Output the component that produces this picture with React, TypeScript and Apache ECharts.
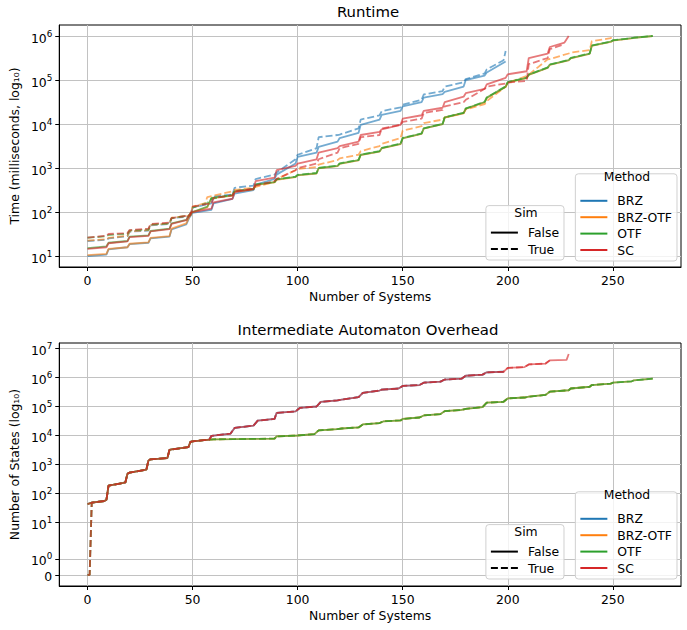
import React, { useEffect, useRef } from 'react';
import * as echarts from 'echarts';

// ---------- categories / ticks ----------
const methods = ['BRZ', 'BRZ-OTF', 'OTF', 'SC'];
const methodColors = ['#1f77b4', '#ff7f0e', '#2ca02c', '#d62728'];
const simValues = ['False', 'True'];
const xTicks = [0, 50, 100, 150, 200, 250];
const runtimeTicks = [10, 100, 1e3, 1e4, 1e5, 1e6];
const statesTicks = [0, 1, 10, 100, 1e3, 1e4, 1e5, 1e6, 1e7];

// ---------- Runtime (ms), [number of systems, time] ----------
const runtimeBrzFalse = [[0,10],[9,10.7],[10,14.1],[19,15.8],[20,18.6],[29,20],[30,25.1],[39,27.5],[40,40],[47,52],[49,85],[50,95],[59,112],[60,158],[69,200],[70,263],[79,316],[80,417],[89,562],[90,708],[99,1260],[100,1780],[109,2240],[110,3020],[119,3980],[120,4790],[129,6310],[130,9550],[139,12600],[140,16200],[149,19950],[150,25100],[159,31600],[160,39800],[169,47900],[170,53700],[179,70800],[180,100000],[189,125900],[190,147900],[199,263000]];
const runtimeBrzTrue = [[0,21.9],[9,23.4],[10,25.1],[19,28.2],[20,35.5],[29,38],[30,50],[39,53.7],[40,72.4],[49,79.4],[50,126],[59,158],[60,224],[69,251],[70,355],[79,398],[80,562],[89,708],[90,794],[99,1580],[100,2000],[109,2820],[110,5010],[119,5620],[120,5750],[129,7940],[130,12600],[139,15800],[140,19500],[149,24000],[150,27500],[159,35500],[160,46800],[169,56200],[170,70800],[179,89000],[180,105000],[189,141000],[190,174000],[198,282000],[199,457000]];
const runtimeBrzOtfFalse = [[0,10.5],[9,11.2],[10,14.5],[19,15.8],[20,19],[29,20.4],[30,25.7],[39,28.2],[40,42],[47,55],[49,90],[50,100],[57,128],[59,205],[69,235],[70,290],[79,325],[80,410],[89,470],[90,540],[99,620],[100,680],[109,750],[110,980],[119,1100],[120,1240],[129,1490],[130,1970],[139,2370],[140,2780],[149,3500],[150,4700],[159,5950],[160,7850],[169,9900],[170,13900],[179,17500],[180,22000],[189,31000],[190,39000],[199,69000],[200,87000],[209,110000],[210,130000],[219,188000],[220,220000],[229,278000],[230,312000],[239,392000],[240,595000],[249,735000],[250,785000],[259,885000],[260,905000],[269,990000]];
const runtimeBrzOtfTrue = [[0,22.4],[9,24],[10,25.7],[19,28.8],[20,36.3],[29,38.9],[30,51],[39,55],[40,74],[49,83],[50,132],[56,160],[57,219],[69,295],[70,316],[79,355],[80,372],[89,479],[90,562],[99,891],[100,955],[109,1047],[110,1200],[119,1510],[120,1660],[129,2000],[130,2400],[139,3160],[140,3550],[149,4790],[150,7080],[159,8900],[160,10500],[169,12600],[170,14100],[179,17800],[180,21400],[189,28200],[190,33100],[199,70800],[200,87000],[209,123000],[210,132000],[219,295000],[220,300000],[229,400000],[230,420000],[239,480000],[240,760000],[249,890000],[250,1000000]];
const runtimeOtfFalse = [[0,15],[9,16.6],[10,20],[19,21.9],[20,27.5],[29,29.5],[30,37],[39,41.7],[40,55],[47,66],[49,95],[50,100],[57,132],[59,209],[69,240],[70,295],[79,331],[80,417],[89,479],[90,550],[99,630],[100,690],[109,760],[110,1000],[119,1120],[120,1260],[129,1510],[130,2000],[139,2400],[140,2820],[149,3550],[150,4790],[159,6030],[160,7940],[169,10000],[170,14100],[179,17800],[180,22400],[189,31600],[190,39800],[199,70800],[200,89000],[209,112000],[210,132000],[219,191000],[220,224000],[229,282000],[230,316000],[239,398000],[240,603000],[249,741000],[250,794000],[259,891000],[260,912000],[269,1000000]];
const runtimeOtfTrue = [[0,26],[9,28],[10,30],[19,32],[20,38],[29,40],[30,52],[39,55],[40,72],[49,85],[50,126],[57,160],[59,200],[69,245],[70,300],[79,335],[80,420],[89,485],[90,555],[99,640],[100,700],[109,770],[110,1010],[119,1130],[120,1280],[129,1530],[130,2020],[139,2420],[140,2850],[149,3600],[150,4850],[159,6100],[160,8000],[169,10100],[170,14200],[179,18000],[180,22600],[189,32000],[190,40000],[199,71500],[200,90000],[209,113000],[210,133000],[219,193000],[220,226000],[229,285000],[230,320000],[239,402000],[240,610000],[249,745000],[250,800000],[259,895000],[260,915000],[269,1000000]];
const runtimeScFalse = [[0,14.5],[9,15.8],[10,19.5],[19,21.4],[20,26.9],[29,28.8],[30,36.3],[39,40.7],[40,53.7],[47,65],[49,95],[50,100],[59,120],[60,166],[69,200],[70,282],[79,331],[80,501],[89,603],[90,891],[99,1120],[100,1260],[109,1580],[110,2240],[119,2820],[120,3160],[129,3980],[130,5620],[139,6610],[140,7590],[149,9550],[150,13200],[159,15800],[160,19950],[169,23400],[170,31600],[179,41700],[180,50100],[189,63100],[190,79400],[199,112000],[200,135000],[209,158000],[210,316000],[219,398000],[220,562000],[227,708000],[229,1000000]];
const runtimeScTrue = [[0,26.3],[9,28.8],[10,31.6],[19,33.1],[20,38.9],[29,41.7],[30,53.7],[39,57.5],[40,72.4],[49,85],[50,132],[59,158],[60,209],[69,240],[70,295],[79,339],[80,398],[89,501],[90,562],[99,891],[100,1000],[109,1260],[110,1580],[119,2240],[120,2820],[129,3550],[130,5010],[139,5620],[140,7940],[149,9550],[150,11200],[159,13200],[160,17800],[169,20900],[170,25100],[179,31600],[180,35500],[189,63100],[190,70800],[199,83200],[200,87100],[209,95500],[210,229000],[219,316000],[220,501000],[226,631000]];

// ---------- Intermediate automaton states, [number of systems, states] ----------
const statesEarly = [[0,43],[2,48],[8,55],[9,60],[10,186],[17,230],[18,240],[19,480],[20,525],[28,660],[29,1380],[30,1510],[38,1660],[39,3160],[40,3300],[48,3980],[49,6000],[50,6310],[58,7240]];
const statesTrueStart = [[0,0],[1,0],[2,48]];
const statesScBrzLate = [[59,9770],[68,11500],[70,18200],[79,21900],[81,32400],[89,37200],[90,60300],[99,67600],[101,89100],[109,100000],[111,145000],[119,162000],[121,174000],[129,209000],[131,295000],[139,355000],[140,380000],[148,417000],[150,513000],[158,550000],[160,661000],[168,724000],[170,851000],[178,912000],[180,1150000],[188,1260000],[190,1510000],[198,1580000],[200,2140000],[208,2290000],[210,2820000],[218,3020000],[220,3890000],[228,4070000],[229,6460000]];
const statesOtfLate = [[60,7400],[70,7500],[80,7650],[89,7800],[90,9300],[100,10000],[108,11200],[110,15100],[119,16600],[121,17400],[129,19000],[131,24000],[139,26900],[141,30900],[149,33100],[150,37200],[158,41700],[160,49000],[168,55000],[170,69200],[178,75900],[180,83200],[188,95500],[190,135000],[198,145000],[200,191000],[208,204000],[210,219000],[218,251000],[220,324000],[229,363000],[230,417000],[239,479000],[240,550000],[249,617000],[250,661000],[259,741000],[260,794000],[269,912000]];
// number of systems solved per method / sim (False, True)
const solvedBrz = [199, 199];
const solvedBrzOtf = [269, 250];
const solvedOtf = [269, 269];
const solvedSc = [229, 226];

const FONT = 'DejaVu Sans';
const LIN = 2;
const ADJ = 1 / (1 - 0.1);
const symlog = (v: number) => (v <= LIN ? (v * ADJ) / LIN : ADJ + Math.log10(v / LIN));
const log10 = (v: number) => Math.log10(v);

function supLabel(e: number) {
  return '{b|10}{s|' + e + '}';
}

export default function App() {
  const ref = useRef<HTMLDivElement>(null);
  useEffect(() => {
    if (!ref.current) return;
    const chart = echarts.init(ref.current, null, { renderer: 'svg' });

    const runtimeData: Record<string, number[][][]> = {
      BRZ: [runtimeBrzFalse, runtimeBrzTrue],
      'BRZ-OTF': [runtimeBrzOtfFalse, runtimeBrzOtfTrue],
      OTF: [runtimeOtfFalse, runtimeOtfTrue],
      SC: [runtimeScFalse, runtimeScTrue],
    };
    const solved: Record<string, number[]> = {
      BRZ: solvedBrz, 'BRZ-OTF': solvedBrzOtf, OTF: solvedOtf, SC: solvedSc,
    };
    const stateLate: Record<string, number[][]> = {
      BRZ: statesScBrzLate, 'BRZ-OTF': statesOtfLate, OTF: statesOtfLate, SC: statesScBrzLate,
    };

    const series: any[] = [];
    const lineSeries = (name: string, grid: number, color: string, dashed: boolean, data: number[][]) => ({
      name,
      type: 'line',
      xAxisIndex: grid,
      yAxisIndex: grid,
      data,
      symbol: 'none',
      showSymbol: false,
      silent: true,
      color,
      lineStyle: { color, width: 1.8, opacity: 0.62, type: dashed ? [7, 3] : 'solid' },
    });

    methods.forEach((m, mi) => {
      simValues.forEach((s, si) => {
        const pts = runtimeData[m][si];
        series.push(lineSeries(m + ' / ' + s + ' (runtime)', 0, methodColors[mi], si === 1,
          pts.map((p) => [p[0], log10(p[1])])));
      });
    });
    methods.forEach((m, mi) => {
      simValues.forEach((s, si) => {
        const start = si === 1 ? statesTrueStart : statesEarly.filter((p) => p[0] < 2);
        const rest = [...statesEarly.filter((p) => p[0] >= 2), ...stateLate[m]];
        const pts = [...start, ...rest].filter((p) => p[0] <= solved[m][si]);
        series.push(lineSeries(m + ' / ' + s + ' (states)', 1, methodColors[mi], si === 1,
          pts.map((p) => [p[0], symlog(p[1])])));
      });
    });
    // legend-only entries
    methods.forEach((m, mi) => {
      series.push({ name: m, type: 'line', xAxisIndex: 0, yAxisIndex: 0, data: [], symbol: 'none',
        color: methodColors[mi], itemStyle: { opacity: 0 }, lineStyle: { color: methodColors[mi], width: 2 } });
    });
    simValues.forEach((s, si) => {
      series.push({ name: s, type: 'line', xAxisIndex: 0, yAxisIndex: 0, data: [], symbol: 'none',
        color: '#000', itemStyle: { opacity: 0 }, lineStyle: { color: '#000', width: 2, type: si === 1 ? [7, 3] : 'solid' } });
    });

    const rich = {
      b: { fontSize: 12.4, fontFamily: FONT, color: '#000', verticalAlign: 'bottom', lineHeight: 16 },
      s: { fontSize: 8.8, fontFamily: FONT, color: '#000', verticalAlign: 'bottom', lineHeight: 16, padding: [0, 0, 6, 0] },
    };

    const xAxis = (grid: number) => ({
      type: 'value', gridIndex: grid, min: -13.45, max: 282.45,
      name: 'Number of Systems', nameLocation: 'middle', nameGap: 23,
      nameTextStyle: { fontSize: 12.4, color: '#000', fontFamily: FONT },
      axisLine: { show: true, onZero: false, lineStyle: { color: '#000', width: 1 } },
      axisTick: { show: true, length: 4, customValues: xTicks, lineStyle: { color: '#000', width: 1 } },
      axisLabel: { customValues: xTicks, margin: 7, fontSize: 12.4, color: '#000', fontFamily: FONT },
      splitLine: { show: true, lineStyle: { color: '#c2c2c2', width: 1 } },
    });

    const runtimeTickPos = runtimeTicks.map(log10);
    const statesTickPos = statesTicks.map(symlog);

    const option: any = {
      animation: false,
      backgroundColor: '#fff',
      textStyle: { fontFamily: FONT },
      title: [
        { text: 'Runtime', left: 368, top: 4, textAlign: 'center', padding: 0,
          textStyle: { fontSize: 14.9, fontWeight: 'normal', color: '#000', fontFamily: FONT } },
        { text: 'Intermediate Automaton Overhead', left: 368, top: 322, textAlign: 'center', padding: 0,
          textStyle: { fontSize: 14.9, fontWeight: 'normal', color: '#000', fontFamily: FONT } },
      ],
      grid: [
        { left: 55, right: 6, top: 25, height: 242, show: true, borderColor: '#000', borderWidth: 1, backgroundColor: 'transparent' },
        { left: 55, right: 6, top: 343, height: 243, show: true, borderColor: '#000', borderWidth: 1, backgroundColor: 'transparent' },
      ],
      xAxis: [xAxis(0), xAxis(1)],
      yAxis: [
        {
          type: 'value', gridIndex: 0, min: 0.75, max: 6.25,
          name: 'Time (milliseconds, log\u2081\u2080)', nameLocation: 'middle', nameGap: 37, nameRotate: 90,
          nameTextStyle: { fontSize: 12.4, color: '#000', fontFamily: FONT },
          axisLine: { show: true, onZero: false, lineStyle: { color: '#000', width: 1 } },
          axisTick: { show: true, length: 4, customValues: runtimeTickPos, lineStyle: { color: '#000' } },
          axisLabel: { customValues: runtimeTickPos, margin: 7, rich,
            formatter: (v: number) => supLabel(Math.round(v)) },
          splitLine: { show: true, lineStyle: { color: '#c2c2c2', width: 1 } },
        },
        {
          type: 'value', gridIndex: 1, min: -0.381, max: 8.0,
          name: 'Number of States (log\u2081\u2080)', nameLocation: 'middle', nameGap: 37, nameRotate: 90,
          nameTextStyle: { fontSize: 12.4, color: '#000', fontFamily: FONT },
          axisLine: { show: true, onZero: false, lineStyle: { color: '#000', width: 1 } },
          axisTick: { show: true, length: 4, customValues: statesTickPos, lineStyle: { color: '#000' } },
          axisLabel: { customValues: statesTickPos, margin: 7, rich,
            formatter: (v: number) => {
              const i = statesTickPos.findIndex((t) => Math.abs(t - v) < 1e-6);
              const raw = i >= 0 ? statesTicks[i] : 0;
              if (raw === 0) return '{b|0}';
              return supLabel(Math.round(Math.log10(raw)));
            } },
          splitLine: { show: true, lineStyle: { color: '#c2c2c2', width: 1 } },
        },
      ],
      legend: [
        { orient: 'vertical', right: 10, bottom: 369, data: methods },
        { orient: 'vertical', right: 123, bottom: 370, data: simValues },
        { orient: 'vertical', right: 10, bottom: 51, data: methods },
        { orient: 'vertical', right: 123, bottom: 51, data: simValues },
      ].map((l) => ({
        ...l,
        itemWidth: 27, itemHeight: 14, itemGap: 4.4,
        padding: [21, 5, 5, 4],
        backgroundColor: 'rgba(255,255,255,0.8)',
        borderColor: '#d0d0d0', borderWidth: 1, borderRadius: 3,
        selectedMode: false,
        itemStyle: { opacity: 0 },
        textStyle: { fontSize: 12.4, color: '#000', fontFamily: FONT, padding: [0, 0, 0, 5] },
      })),
      graphic: [
        { type: 'text', x: 627, y: 176, style: { text: 'Method', fontSize: 12.4, fontFamily: FONT, fill: '#000', align: 'center', verticalAlign: 'middle' }, z: 100 },
        { type: 'text', x: 526, y: 212, style: { text: 'Sim', fontSize: 12.4, fontFamily: FONT, fill: '#000', align: 'center', verticalAlign: 'middle' }, z: 100 },
        { type: 'text', x: 627, y: 494, style: { text: 'Method', fontSize: 12.4, fontFamily: FONT, fill: '#000', align: 'center', verticalAlign: 'middle' }, z: 100 },
        { type: 'text', x: 526, y: 531, style: { text: 'Sim', fontSize: 12.4, fontFamily: FONT, fill: '#000', align: 'center', verticalAlign: 'middle' }, z: 100 },
      ],
      series,
    };
    chart.setOption(option);
    return () => chart.dispose();
  }, []);

  return (
    <div
      ref={ref}
      style={{ position: 'fixed', left: 0, top: 0, width: 687, height: 630, background: '#fff' }}
    />
  );
}
